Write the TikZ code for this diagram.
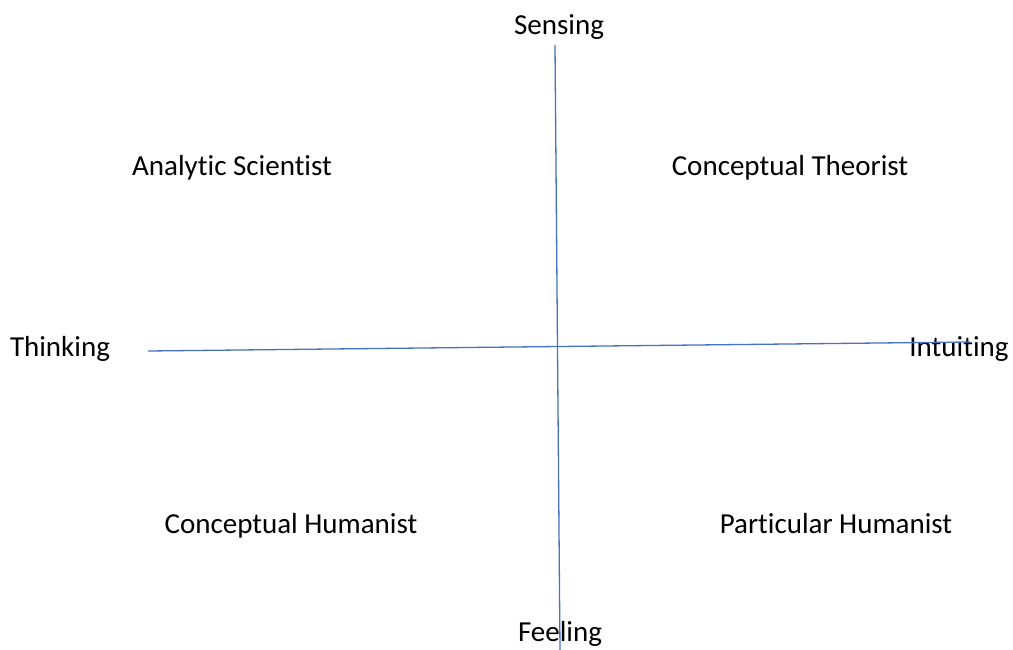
\documentclass[tikz,border=0pt]{standalone}
\usepackage{fontspec}
\setmainfont{Carlito}[Ligatures={NoCommon}]
\usepackage{xcolor}
\definecolor{axisblue}{HTML}{4472C4}
\tikzset{
  label/.style={
    inner sep=0pt,
    align=center,
    font=\fontsize{29}{35}\selectfont
    },
  axis/.style={draw=axisblue, line width=1.3pt},
}
\begin{document}
\begin{tikzpicture}[
            x = 1pt, y = -1pt, % pixel grid of the reference
            semithick % line style
        ]
         \useasboundingbox (0,0) rectangle (1013,650);

         % axis ends
         \coordinate (top) at (555,45);
         \coordinate (bottom) at (560,650);
         \coordinate (left) at (148,351);
         \coordinate (right) at (970,342);

         % poles
         \node[label] (sensing) at (559,27) {Sensing};
         \node[label] (feeling) at (560,634) {Feeling};
         \node[label] (thinking) at (60,349) {Thinking};
         \node[label] (intuiting) at (959,349) {Intuiting};

         % quadrants
         \node[label] (analytic) at (232,168) {Analytic Scientist};
         \node[label] (theorist) at (790,168) {Conceptual Theorist};
         \node[label] (chumanist) at (291,526) {Conceptual Humanist};
         \node[label] (phumanist) at (836,524) {Particular Humanist};

         \path[axis] (top) -- (bottom);
         \path[axis] (left) -- (right);
  \end{tikzpicture}
\end{document}
